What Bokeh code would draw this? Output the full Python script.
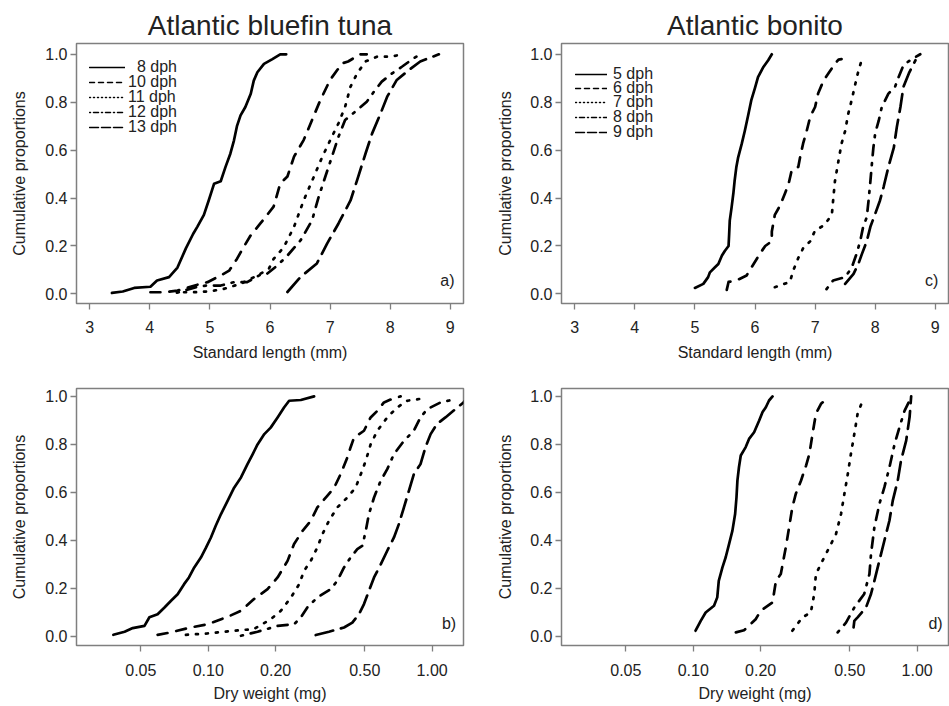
from bokeh.plotting import figure
from bokeh.layouts import gridplot
from bokeh.models import Range1d, FixedTicker, PrintfTickFormatter, Legend, LegendItem, Label
from bokeh.embed import file_html
from bokeh.resources import INLINE

# ---------------------------------------------------------------- data
# Empirical cumulative proportions: (value, proportion) pairs per age group.

# Atlantic bluefin tuna, standard length (mm)
bft_sl_08 = [3.37, 3.55, 3.74, 4.01, 4.12, 4.32, 4.46, 4.60, 4.72, 4.79, 4.90, 4.98, 5.07, 5.18, 5.26,
             5.34, 5.40, 5.45, 5.51, 5.59, 5.68, 5.73, 5.79, 5.90, 6.04, 6.17, 6.27]
bft_sl_08_p = [0.004, 0.01, 0.025, 0.03, 0.056, 0.07, 0.11, 0.19, 0.25, 0.28, 0.33, 0.39, 0.46, 0.47, 0.53,
               0.585, 0.64, 0.70, 0.745, 0.78, 0.835, 0.89, 0.925, 0.96, 0.98, 1.0, 1.0]
bft_sl_10 = [4.01, 4.24, 4.46, 4.84, 4.96, 5.18, 5.32, 5.45, 5.56, 5.68, 5.84, 6.06, 6.17, 6.29, 6.40,
             6.56, 6.70, 6.84, 7.00, 7.20, 7.30, 7.50, 7.61]
bft_sl_10_p = [0.007, 0.007, 0.014, 0.042, 0.049, 0.077, 0.097, 0.146, 0.195, 0.245, 0.294, 0.364, 0.46, 0.49,
               0.573, 0.642, 0.726, 0.81, 0.893, 0.962, 0.97, 1.0, 1.0]
bft_sl_11 = [4.57, 4.73, 5.01, 5.23, 5.51, 5.79, 5.98, 6.06, 6.23, 6.40, 6.56, 6.73, 6.87, 7.03, 7.14,
             7.25, 7.34, 7.45, 7.59, 7.78, 8.00, 8.22]
bft_sl_11_p = [0.007, 0.007, 0.011, 0.021, 0.042, 0.077, 0.104, 0.146, 0.195, 0.28, 0.39, 0.489, 0.572, 0.656,
               0.712, 0.781, 0.865, 0.92, 0.97, 0.99, 0.99, 1.0]
bft_sl_12 = [4.45, 4.79, 4.96, 5.18, 5.40, 5.62, 5.84, 5.95, 6.12, 6.29, 6.51, 6.70, 6.81, 6.92, 7.03,
             7.14, 7.25, 7.45, 7.61, 7.73, 7.86, 8.03, 8.20, 8.39, 8.50]
bft_sl_12_p = [0.005, 0.03, 0.035, 0.035, 0.049, 0.049, 0.08, 0.084, 0.118, 0.16, 0.224, 0.307, 0.405, 0.489,
               0.572, 0.656, 0.726, 0.767, 0.802, 0.844, 0.886, 0.92, 0.949, 0.983, 1.0]
bft_sl_13 = [6.29, 6.51, 6.78, 6.95, 7.14, 7.34, 7.45, 7.59, 7.70, 7.84, 7.95, 8.11, 8.31, 8.50, 8.81]
bft_sl_13_p = [0.008, 0.071, 0.127, 0.21, 0.294, 0.39, 0.475, 0.586, 0.67, 0.753, 0.823, 0.893, 0.934,
               0.97, 1.0]

# Atlantic bluefin tuna, dry weight (mg)
bft_dw_08 = [0.0377, 0.0423, 0.046, 0.0519, 0.0546, 0.0594, 0.0636, 0.0682, 0.073, 0.078, 0.082, 0.0866,
             0.0927, 0.0977, 0.1028, 0.108, 0.114, 0.122, 0.1305, 0.140, 0.1497, 0.158, 0.166, 0.178,
             0.190, 0.204, 0.218, 0.2297, 0.259, 0.297]
bft_dw_08_p = [0.007, 0.02, 0.035, 0.044, 0.08, 0.093, 0.12, 0.149, 0.176, 0.218, 0.246, 0.2875, 0.329,
               0.37, 0.4125, 0.461, 0.51, 0.565, 0.62, 0.6625, 0.718, 0.76, 0.80, 0.843, 0.87, 0.9125,
               0.954, 0.982, 0.985, 1.0]
bft_dw_10 = [0.0594, 0.068, 0.081, 0.0993, 0.122, 0.140, 0.160, 0.184, 0.204, 0.226, 0.2417, 0.2635,
             0.287, 0.307, 0.340, 0.365, 0.390, 0.418, 0.432, 0.448, 0.496, 0.531, 0.569, 0.609, 0.675,
             0.723]
bft_dw_10_p = [0.007, 0.017, 0.035, 0.051, 0.082, 0.107, 0.156, 0.197, 0.246, 0.315, 0.385, 0.44, 0.482,
               0.5375, 0.586, 0.62, 0.676, 0.746, 0.7875, 0.829, 0.857, 0.9125, 0.94, 0.975, 0.993, 1.0]
bft_dw_11 = [0.0795, 0.099, 0.1305, 0.160, 0.190, 0.211, 0.234, 0.2547, 0.268, 0.287, 0.307, 0.3235,
             0.346, 0.377, 0.418, 0.455, 0.48, 0.505, 0.531, 0.569, 0.63, 0.698, 0.774, 0.887]
bft_dw_11_p = [0.007, 0.0125, 0.024, 0.031, 0.072, 0.107, 0.1625, 0.218, 0.274, 0.315, 0.371, 0.426,
               0.482, 0.5375, 0.579, 0.62, 0.676, 0.732, 0.80, 0.857, 0.9125, 0.954, 0.982, 0.99]
bft_dw_12 = [0.14, 0.166, 0.204, 0.2417, 0.259, 0.277, 0.307, 0.352, 0.377, 0.404, 0.432, 0.463, 0.488,
             0.505, 0.522, 0.55, 0.589, 0.63, 0.675, 0.748, 0.828, 0.887, 0.95, 1.09, 1.29]
bft_dw_12_p = [0.003, 0.02, 0.044, 0.051, 0.079, 0.121, 0.1625, 0.197, 0.232, 0.2875, 0.329, 0.364, 0.378,
               0.44, 0.51, 0.579, 0.649, 0.697, 0.76, 0.815, 0.857, 0.9125, 0.947, 0.975, 0.99]
bft_dw_13 = [0.302, 0.346, 0.404, 0.44, 0.471, 0.496, 0.522, 0.55, 0.589, 0.63, 0.675, 0.71, 0.748,
             0.787, 0.828, 0.887, 0.933, 0.984, 1.05, 1.146, 1.27, 1.38, 1.45]
bft_dw_13_p = [0.006, 0.02, 0.0375, 0.058, 0.093, 0.135, 0.19, 0.246, 0.30, 0.357, 0.4125, 0.468, 0.5375,
               0.607, 0.676, 0.718, 0.7875, 0.843, 0.885, 0.9125, 0.947, 0.975, 1.0]

# Atlantic bonito, standard length (mm)
bon_sl_05 = [5.00, 5.14, 5.22, 5.25, 5.33, 5.39, 5.45, 5.50, 5.56, 5.57, 5.58, 5.61, 5.64, 5.66, 5.69,
             5.72, 5.78, 5.83, 5.89, 5.94, 6.00, 6.05, 6.14, 6.22, 6.28]
bon_sl_05_p = [0.025, 0.042, 0.07, 0.09, 0.11, 0.125, 0.16, 0.18, 0.20, 0.25, 0.306, 0.36, 0.42, 0.47,
               0.53, 0.57, 0.627, 0.68, 0.75, 0.81, 0.86, 0.905, 0.947, 0.975, 1.0]
bon_sl_06 = [5.53, 5.56, 5.69, 5.86, 5.94, 6.08, 6.17, 6.28, 6.28, 6.33, 6.42, 6.50, 6.56, 6.61, 6.72,
             6.75, 6.80, 6.86, 6.92, 7.00, 7.05, 7.14, 7.22, 7.33, 7.39, 7.44]
bon_sl_06_p = [0.017, 0.05, 0.056, 0.077, 0.11, 0.167, 0.20, 0.22, 0.26, 0.33, 0.37, 0.42, 0.46, 0.515,
               0.53, 0.57, 0.627, 0.68, 0.74, 0.78, 0.836, 0.89, 0.92, 0.96, 0.978, 0.98]
bon_sl_07 = [6.33, 6.58, 6.64, 6.72, 6.80, 6.92, 7.00, 7.14, 7.22, 7.28, 7.30, 7.33, 7.39, 7.44, 7.50,
             7.55, 7.61, 7.67, 7.72, 7.78]
bon_sl_07_p = [0.028, 0.05, 0.10, 0.15, 0.19, 0.22, 0.265, 0.285, 0.31, 0.334, 0.39, 0.47, 0.557, 0.627,
               0.68, 0.75, 0.81, 0.877, 0.93, 0.98]
bon_sl_08 = [7.19, 7.30, 7.50, 7.61, 7.69, 7.75, 7.80, 7.86, 7.89, 7.92, 7.95, 7.97, 8.00, 8.06, 8.11,
             8.22, 8.33, 8.39, 8.47, 8.58, 8.75]
bon_sl_08_p = [0.02, 0.056, 0.07, 0.11, 0.167, 0.22, 0.28, 0.32, 0.39, 0.47, 0.557, 0.61, 0.67, 0.724,
               0.78, 0.836, 0.864, 0.905, 0.954, 0.975, 1.0]
bon_sl_09 = [7.50, 7.64, 7.72, 7.78, 7.86, 7.92, 8.00, 8.08, 8.14, 8.22, 8.31, 8.36, 8.42, 8.47, 8.56,
             8.64, 8.67]
bon_sl_09_p = [0.042, 0.084, 0.125, 0.167, 0.22, 0.28, 0.334, 0.39, 0.446, 0.53, 0.61, 0.696, 0.78,
               0.864, 0.92, 0.96, 0.975]

# Atlantic bonito, dry weight (mg)
bon_dw_05 = [0.1024, 0.108, 0.1136, 0.1238, 0.128, 0.130, 0.135, 0.1396, 0.1445, 0.1496, 0.1538, 0.156,
             0.1575, 0.16, 0.163, 0.1715, 0.1775, 0.187, 0.197, 0.204, 0.211, 0.218, 0.226]
bon_dw_05_p = [0.024, 0.065, 0.10, 0.128, 0.163, 0.232, 0.288, 0.33, 0.385, 0.441, 0.51, 0.58, 0.65,
               0.705, 0.754, 0.789, 0.823, 0.851, 0.90, 0.935, 0.955, 0.983, 1.0]
bon_dw_06 = [0.155, 0.1686, 0.190, 0.200, 0.226, 0.234, 0.246, 0.259, 0.268, 0.277, 0.287, 0.303, 0.319,
             0.33, 0.341, 0.353, 0.372, 0.405]
bon_dw_06_p = [0.017, 0.026, 0.072, 0.107, 0.142, 0.232, 0.26, 0.371, 0.455, 0.538, 0.594, 0.65, 0.712,
               0.76, 0.844, 0.928, 0.969, 1.0]
bon_dw_07 = [0.277, 0.3075, 0.335, 0.347, 0.353, 0.378, 0.405, 0.434, 0.457, 0.473, 0.49, 0.506, 0.524,
             0.542, 0.571]
bon_dw_07_p = [0.024, 0.08, 0.10, 0.177, 0.26, 0.316, 0.371, 0.427, 0.51, 0.594, 0.677, 0.761, 0.844,
               0.928, 0.983]
bon_dw_08 = [0.4415, 0.481, 0.524, 0.58, 0.612, 0.622, 0.644, 0.678, 0.714, 0.752, 0.792, 0.834, 0.878,
             0.925]
bon_dw_08_p = [0.017, 0.058, 0.121, 0.177, 0.26, 0.343, 0.455, 0.552, 0.622, 0.705, 0.80, 0.872, 0.94,
               0.983]
bon_dw_09 = [0.52, 0.524, 0.542, 0.591, 0.622, 0.644, 0.678, 0.714, 0.752, 0.778, 0.819, 0.847, 0.893,
             0.925, 0.94]
bon_dw_09_p = [0.038, 0.065, 0.08, 0.121, 0.177, 0.232, 0.316, 0.40, 0.483, 0.566, 0.65, 0.733, 0.816,
               0.914, 1.0]

bft_ages = ["\u20078 dph", "10 dph", "11 dph", "12 dph", "13 dph"]
bon_ages = ["5 dph", "6 dph", "7 dph", "8 dph", "9 dph"]

length_ticks = [3, 4, 5, 6, 7, 8, 9]
weight_ticks = [0.05, 0.10, 0.20, 0.50, 1.00]
prop_ticks = [0.0, 0.2, 0.4, 0.6, 0.8, 1.0]

# ---------------------------------------------------------------- style
FONT = "Liberation Sans"
INK = "#222222"
BOX = "#7f7f7f"
CURVE_DASH = ["solid", "10 9", "2 8", "2 8 10 8", "18 8"]
KEY_DASH = ["solid", "5 4", "1 3", "1 3 5 3", "9 3"]
NAN = float("nan")


def make_panel(series, ages, width, height, borders, x_range, y_range, log, ticks, fmt,
               xlabel, tag, tag_x, title=None, key=None, tick_gap=11, label_gap=8, ylabel_gap=11):
    left, right, top, bottom = borders
    p = figure(width=width, height=height, x_range=x_range, y_range=y_range,
               x_axis_type="log" if log else "linear", output_backend="svg",
               toolbar_location=None, min_border_left=left, min_border_right=right,
               min_border_top=top, min_border_bottom=bottom)
    p.background_fill_color = "white"
    p.border_fill_color = "white"
    p.outline_line_color = BOX
    p.outline_line_width = 1.5
    p.xgrid.visible = False
    p.ygrid.visible = False

    if title:
        p.title.text = title
        p.title.align = "center"
        p.title.text_font = FONT
        p.title.text_font_size = "28px"
        p.title.text_font_style = "normal"
        p.title.text_color = INK
        p.title.standoff = 6

    for ax in (p.xaxis[0], p.yaxis[0]):
        ax.axis_line_color = None
        ax.major_tick_line_color = BOX
        ax.major_tick_line_width = 1.3
        ax.major_tick_out = 6
        ax.major_tick_in = 0
        ax.minor_tick_line_color = None
        ax.major_label_text_font = FONT
        ax.major_label_text_font_size = "16px"
        ax.major_label_text_color = INK
        ax.axis_label_text_font = FONT
        ax.axis_label_text_font_size = "16px"
        ax.axis_label_text_font_style = "normal"
        ax.axis_label_text_color = INK

    p.xaxis.ticker = FixedTicker(ticks=ticks)
    p.xaxis.formatter = PrintfTickFormatter(format=fmt)
    p.xaxis.major_label_standoff = tick_gap
    p.xaxis.axis_label = xlabel
    p.xaxis.axis_label_standoff = label_gap

    p.yaxis.ticker = FixedTicker(ticks=prop_ticks)
    p.yaxis.formatter = PrintfTickFormatter(format="%.1f")
    p.yaxis.major_label_standoff = 3
    p.yaxis.axis_label = "Cumulative proportions"
    p.yaxis.axis_label_standoff = ylabel_gap

    for (xs, ps), dash in zip(series, CURVE_DASH):
        p.line(xs, ps, line_color="black", line_width=2.7, line_dash=dash,
               line_cap="round", line_join="round")

    if key is not None:
        # one single-entry key per age so the rows can sit as tightly as in R's legend
        glyph_w, left_off, rows, standoff = key
        for age, dash, row_y in zip(ages, KEY_DASH, rows):
            r = p.line(x=[NAN], y=[NAN], line_color="black", line_width=1.5, line_dash=dash,
                       line_cap="round")
            lg = Legend(items=[LegendItem(label=age, renderers=[r])], location=(left_off, row_y),
                        glyph_width=glyph_w, glyph_height=14, label_height=14, label_width=10,
                        spacing=0, padding=0, margin=0, label_standoff=standoff,
                        border_line_color=None, background_fill_alpha=0, label_text_font=FONT,
                        label_text_font_size="16px", label_text_color=INK)
            p.add_layout(lg)

    p.add_layout(Label(x=tag_x, y=0.055, text=tag, text_align="right", text_baseline="middle",
                       text_font=FONT, text_font_size="16px", text_color=INK))
    return p


bft_len = [(bft_sl_08, bft_sl_08_p), (bft_sl_10, bft_sl_10_p), (bft_sl_11, bft_sl_11_p),
           (bft_sl_12, bft_sl_12_p), (bft_sl_13, bft_sl_13_p)]
bft_wt = [(bft_dw_08, bft_dw_08_p), (bft_dw_10, bft_dw_10_p), (bft_dw_11, bft_dw_11_p),
          (bft_dw_12, bft_dw_12_p), (bft_dw_13, bft_dw_13_p)]
bon_len = [(bon_sl_05, bon_sl_05_p), (bon_sl_06, bon_sl_06_p), (bon_sl_07, bon_sl_07_p),
           (bon_sl_08, bon_sl_08_p), (bon_sl_09, bon_sl_09_p)]
bon_wt = [(bon_dw_05, bon_dw_05_p), (bon_dw_06, bon_dw_06_p), (bon_dw_07, bon_dw_07_p),
          (bon_dw_08, bon_dw_08_p), (bon_dw_09, bon_dw_09_p)]

TOP_H, BOT_H = 366, 340
LEFT_W, RIGHT_W = 470, 479

pa = make_panel(bft_len, bft_ages, LEFT_W, TOP_H, (76, 7, 43, 63), Range1d(2.78, 9.22),
                Range1d(-0.04, 1.045), False, length_ticks, "%d", "Standard length (mm)", "a)", 9.07,
                title="Atlantic bluefin tuna", key=(36, 13, [227, 212, 197, 182, 167], 3),
                ylabel_gap=14)
pc = make_panel(bon_len, bon_ages, RIGHT_W, TOP_H, (91, 1, 43, 63), Range1d(2.78, 9.22),
                Range1d(-0.04, 1.045), False, length_ticks, "%d", "Standard length (mm)", "c)", 9.05,
                title="Atlantic bonito", key=(32, 14, [220, 206, 192, 177, 162], 6),
                ylabel_gap=13)
pb = make_panel(bft_wt, bft_ages, LEFT_W, BOT_H, (75, 7, 22, 61), Range1d(0.0258, 1.38),
                Range1d(-0.0375, 1.033), True, weight_ticks, "%.2f", "Dry weight (mg)", "b)", 1.28,
                tick_gap=12, label_gap=6, ylabel_gap=14)
pd = make_panel(bon_wt, bon_ages, RIGHT_W, BOT_H, (91, 1, 22, 61), Range1d(0.0258, 1.38),
                Range1d(-0.0375, 1.033), True, weight_ticks, "%.2f", "Dry weight (mg)", "d)", 1.30,
                tick_gap=12, label_gap=6, ylabel_gap=13)

grid = gridplot([[pa, pc], [pb, pd]], toolbar_location=None)

open("out.html", "w").write(file_html(grid, INLINE))
